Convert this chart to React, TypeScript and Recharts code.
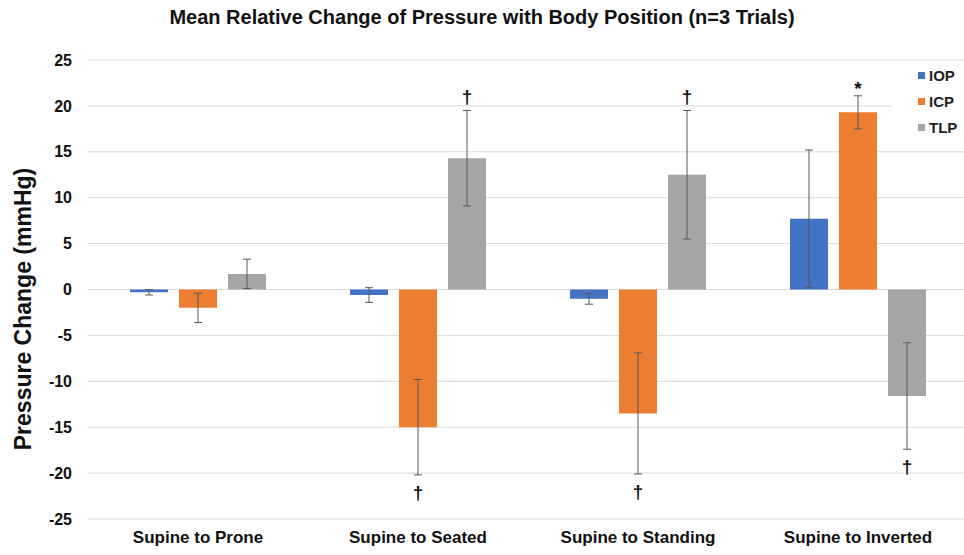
import React from 'react';
import { BarChart, Bar, XAxis, YAxis, CartesianGrid, ErrorBar, LabelList } from 'recharts';

const categories = ['Supine to Prone', 'Supine to Seated', 'Supine to Standing', 'Supine to Inverted'];
const iop = [-0.3, -0.6, -1.0, 7.7];
const iopErr = [0.3, 0.8, 0.6, 7.5];
const icp = [-2.0, -15.0, -13.5, 19.3];
const icpErr = [1.6, 5.2, 6.6, 1.8];
const tlp = [1.7, 14.3, 12.5, -11.6];
const tlpErr = [1.6, 5.2, 7.0, 5.8];
const icpMarks = ['', '\u2020', '\u2020', '*'];
const tlpMarks = ['', '\u2020', '\u2020', '\u2020'];
const yTicks = [25, 20, 15, 10, 5, 0, -5, -10, -15, -20, -25];

const FONT = '"Liberation Sans", Arial, sans-serif';

const series = [
  { key: 'IOP', color: '#4472C4' },
  { key: 'ICP', color: '#ED7D31' },
  { key: 'TLP', color: '#A5A5A5' },
];

const data = categories.map((name, i) => ({
  name,
  IOP: iop[i],
  IOPerr: iopErr[i],
  ICP: icp[i],
  ICPerr: icpErr[i],
  ICPmark: icpMarks[i],
  TLP: tlp[i],
  TLPerr: tlpErr[i],
  TLPmark: tlpMarks[i],
}));

// places the significance mark just past the end of the error bar
function makeMark(values: number[], errs: number[]) {
  return (props: any) => {
    const { index, value } = props;
    if (!value) return null;
    const vb = props.viewBox ?? props;
    const x = Number(vb.x);
    const y = Number(vb.y);
    const w = Number(vb.width);
    const h = Number(vb.height);
    const top = Math.min(y, y + h);
    const bottom = Math.max(y, y + h);
    const v = values[index];
    const ppu = (bottom - top) / Math.abs(v);
    const cx = x + w / 2;
    let ty;
    if (v > 0) {
      const tip = top - errs[index] * ppu;
      ty = value === '*' ? tip - 1 : tip - 7;
    } else {
      const tip = bottom + errs[index] * ppu;
      ty = tip + 24;
    }
    return (
      <text x={cx} y={ty} textAnchor="middle" fontFamily={FONT} fontWeight="bold" fontSize={19} fill="#111">
        {value}
      </text>
    );
  };
}

const yLabel = () => (
  <text
    x={23}
    y={309}
    transform="rotate(-90, 23, 309)"
    textAnchor="middle"
    dominantBaseline="central"
    fontFamily={FONT}
    fontWeight="bold"
    fontSize={23}
    fill="#111"
  >
    Pressure Change (mmHg)
  </text>
);

export default function App() {
  const xTick = { fontFamily: FONT, fontWeight: 'bold', fontSize: 17, fill: '#111' };
  const yTick = { fontFamily: FONT, fontWeight: 'bold', fontSize: 16, fill: '#111' };
  return (
    <div style={{ position: 'absolute', left: 0, top: 0, width: 964, height: 555, overflow: 'hidden', background: '#fff' }}>
      <div
        style={{
          position: 'absolute',
          left: 0,
          top: 6,
          width: 964,
          textAlign: 'center',
          fontFamily: FONT,
          fontWeight: 'bold',
          fontSize: 20,
          color: '#111',
          zIndex: 2,
        }}
      >
        Mean Relative Change of Pressure with Body Position (n=3 Trials)
      </div>
      <BarChart
        width={980}
        height={555}
        data={data}
        margin={{ top: 60, right: 12, bottom: 0, left: 0 }}
        barSize={38}
        barGap={11}
      >
        <CartesianGrid vertical={false} stroke="#d9d9d9" strokeWidth={1} />
        <XAxis
          dataKey="name"
          height={36}
          axisLine={false}
          tickLine={false}
          tickSize={0}
          tickMargin={12}
          tick={xTick}
          interval={0}
        />
        <YAxis
          width={88}
          domain={[-25, 25]}
          ticks={yTicks}
          interval={0}
          axisLine={false}
          tickLine={false}
          tickSize={0}
          tickMargin={16}
          tick={yTick}
          label={yLabel}
        />
        <Bar dataKey="IOP" fill="#4472C4" isAnimationActive={false}>
          <ErrorBar dataKey="IOPerr" width={4} stroke="#595959" strokeWidth={1} />
        </Bar>
        <Bar dataKey="ICP" fill="#ED7D31" isAnimationActive={false}>
          <ErrorBar dataKey="ICPerr" width={4} stroke="#595959" strokeWidth={1} />
          <LabelList dataKey="ICPmark" content={makeMark(icp, icpErr)} />
        </Bar>
        <Bar dataKey="TLP" fill="#A5A5A5" isAnimationActive={false}>
          <ErrorBar dataKey="TLPerr" width={4} stroke="#595959" strokeWidth={1} />
          <LabelList dataKey="TLPmark" content={makeMark(tlp, tlpErr)} />
        </Bar>
      </BarChart>
      <div
        style={{
          position: 'absolute',
          left: 892,
          top: 62,
          width: 72,
          height: 78,
          boxSizing: 'border-box',
          background: '#fff',
        }}
      >
        {series.map((s) => (
          <div key={s.key} style={{ display: 'flex', alignItems: 'center', height: 26, paddingLeft: 26 }}>
            <span style={{ width: 7, height: 7, background: s.color, marginRight: 4, display: 'inline-block' }} />
            <span style={{ fontFamily: FONT, fontWeight: 'bold', fontSize: 15, color: '#222' }}>{s.key}</span>
          </div>
        ))}
      </div>
    </div>
  );
}
